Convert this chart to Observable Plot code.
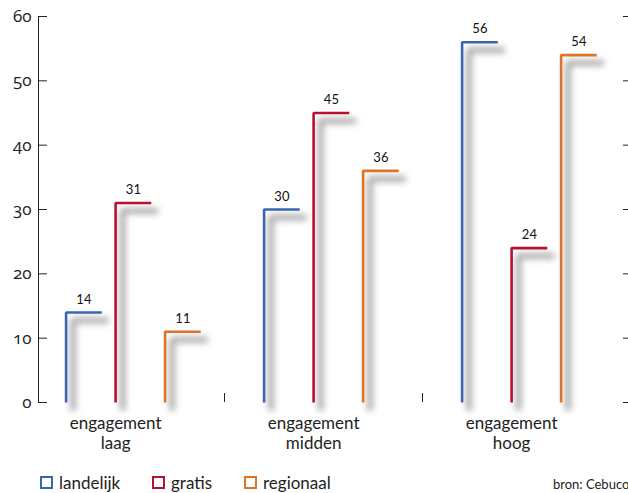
<!DOCTYPE html>
<html>
<head>
<meta charset="utf-8">
<script src="https://cdn.jsdelivr.net/npm/d3@7"></script>
<script src="https://cdn.jsdelivr.net/npm/@observablehq/plot@0.6"></script>
<style>
  html, body { margin: 0; padding: 0; background: #fff; }
  #wrap { position: relative; width: 628px; height: 493px; overflow: hidden; font-family: Lato, "Open Sans", sans-serif; }
  #chart svg { display: block; }
  .leg { position: absolute; top: 472px; display: flex; align-items: center; font-size: 17px; color: #222; }
  .sw { width: 9px; height: 9px; border: 2.5px solid; margin-right: 6px; }
  #src { position: absolute; left: 553px; top: 476px; font-size: 13px; color: #222; white-space: nowrap; }
</style>
</head>
<body>
<div id="wrap">
  <div id="chart"></div>
  <div id="legend"></div>
  <div id="src">bron: Cebuco</div>
</div>
<script>
const groups = ["engagement\nlaag", "engagement\nmidden", "engagement\nhoog"];
const series = ["landelijk", "gratis", "regionaal"];
const colors = ["#3a66b0", "#b8112e", "#dd7326"];
const landelijk = [14, 30, 56];
const gratis = [31, 45, 24];
const regionaal = [11, 36, 54];
const yTicks = [0, 10, 20, 30, 40, 50, 60];

const valuesBySeries = [landelijk, gratis, regionaal];
const barOffset = [0.2, 0.45, 0.7];
const capWidth = 0.18;

const pts = [];
const labels = [];
groups.forEach((g, i) => {
  series.forEach((s, j) => {
    const v = valuesBySeries[j][i];
    const x0 = i + barOffset[j];
    const key = s + "-" + i;
    pts.push({key, s, x: x0, y: 0});
    pts.push({key, s, x: x0, y: v});
    pts.push({key, s, x: x0 + capWidth, y: v});
    labels.push({s, x: x0 + capWidth / 2, y: v, text: String(v)});
  });
});
const cats = groups.map((g, i) => ({x: i + barOffset[1], y: 0, text: g}));

const chart = Plot.plot({
  width: 628,
  height: 466,
  marginLeft: 38,
  marginRight: 0,
  marginTop: 16,
  marginBottom: 64,
  style: {fontFamily: "Lato, 'Open Sans', sans-serif", color: "#222", overflow: "visible"},
  x: {domain: [0, 3], range: [26, 620], axis: null},
  y: {domain: [0, 60], axis: null},
  color: {domain: series, range: colors},
  marks: [
    Plot.line(pts, {x: "x", y: "y", z: "key", stroke: "#9e9e9e", strokeWidth: 6, dx: 7, dy: 8, strokeLinejoin: "miter", strokeLinecap: "butt"}),
    Plot.line(pts, {x: "x", y: "y", z: "key", stroke: "s", strokeWidth: 2.6, strokeLinejoin: "miter", strokeLinecap: "butt"}),
    Plot.text(labels, {x: "x", y: "y", text: "text", dy: -13, fontSize: 13, fill: "#111"}),
    Plot.text(cats, {x: "x", y: "y", text: "text", lineAnchor: "top", dy: 12, fontSize: 17, lineHeight: 1.2, fill: "#222"}),
    Plot.frame({anchor: "left", stroke: "#222"}),
    Plot.axisY(yTicks, {anchor: "left", label: null, tickSize: -9, tickFormat: () => "", stroke: "#222"}),
    Plot.axisY(yTicks, {anchor: "left", label: null, tickSize: 0, tickPadding: 7, fontSize: 17, fill: "#222", tickFormat: d => String(d)}),
    Plot.axisY(yTicks, {anchor: "right", label: null, tickSize: -6, tickFormat: () => "", stroke: "#222"}),
    Plot.axisX([1, 2], {anchor: "bottom", label: null, tickSize: -9, tickFormat: () => "", stroke: "#222"})
  ]
});
document.getElementById("chart").appendChild(chart);

// blur shadow with an SVG filter
const ns = "http://www.w3.org/2000/svg";
const defs = document.createElementNS(ns, "defs");
const filt = document.createElementNS(ns, "filter");
filt.setAttribute("id", "shadowBlur");
filt.setAttribute("filterUnits", "userSpaceOnUse");
filt.setAttribute("x", "0"); filt.setAttribute("y", "0");
filt.setAttribute("width", "628"); filt.setAttribute("height", "466");
const blur = document.createElementNS(ns, "feGaussianBlur");
blur.setAttribute("stdDeviation", "3");
filt.appendChild(blur);
defs.appendChild(filt);
chart.insertBefore(defs, chart.firstChild);
const shadowGroup = chart.querySelector('g[aria-label="line"]');
if (shadowGroup) {
  shadowGroup.setAttribute("filter", "url(#shadowBlur)");
  shadowGroup.setAttribute("opacity", "0.85");
}

// oldstyle numerals on y tick labels
chart.querySelectorAll('g[aria-label="y-axis tick label"] text').forEach(t => {
  t.style.fontFamily = "'Open Sans', sans-serif";
  t.style.fontVariantNumeric = "oldstyle-nums";
  t.style.fontFeatureSettings = "'onum' 1";
});

const legPos = [40, 152, 244];
const leg = document.getElementById("legend");
series.forEach((s, j) => {
  const d = document.createElement("div");
  d.className = "leg";
  d.style.left = legPos[j] + "px";
  const sw = document.createElement("span");
  sw.className = "sw";
  sw.style.borderColor = colors[j];
  d.appendChild(sw);
  d.appendChild(document.createTextNode(s));
  leg.appendChild(d);
});
</script>
</body>
</html>
